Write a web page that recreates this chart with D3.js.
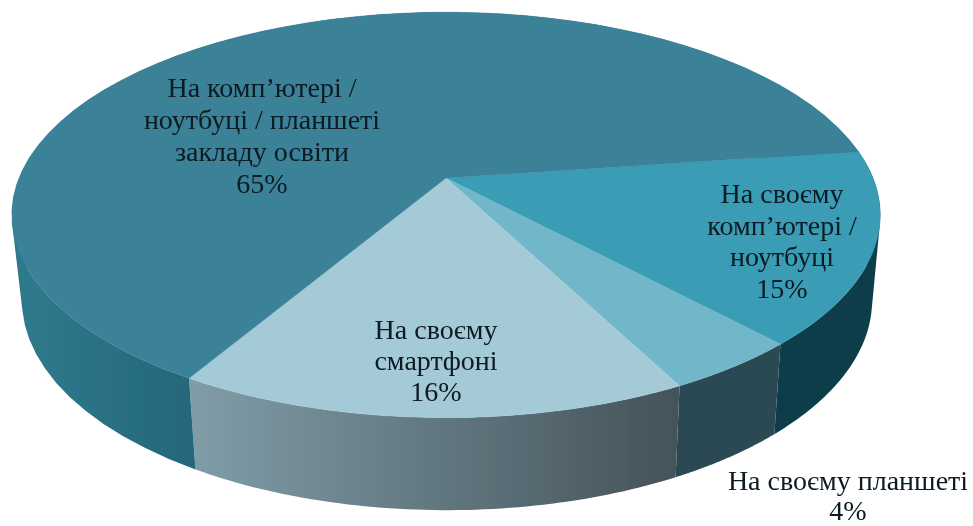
<!DOCTYPE html>
<html><head><meta charset="utf-8">
<script src="https://cdn.jsdelivr.net/npm/d3@7"></script>
<style>html,body{margin:0;padding:0;background:#fff}svg{display:block}
text{font-family:"Liberation Serif",serif;font-size:28px;fill:#0c1a20;text-anchor:middle}</style>
</head><body><svg id="c" width="973" height="526"></svg>
<script>
const categories=["На своєму комп’ютері / ноутбуці","На своєму планшеті","На своєму смартфоні","На комп’ютері / ноутбуці / планшеті закладу освіти"];
const values=[15.4,4.3,16.1,64.5];
const labelLines=[["На своєму","комп’ютері /","ноутбуці","15%"],["На своєму планшеті","4%"],["На своєму","смартфоні","16%"],["На комп’ютері /","ноутбуці / планшеті","закладу освіти","65%"]];
const topColors=["#3a9cb5","#72b6ca","#a5cad7","#3a8299"];
const wallStops=[["#123f4d","#0f3c49"],["#2c4a55","#2c4853"],["#7f9ca7","#45535a"],["#2f7a8c","#24667a"]];
const wallSpans=[[672,880],[672,780],[195,675],[15,200]];
const labelAnchors=[[782,203],[848,490],[436,339],[262,97]];
const lineGaps=[31.7,30,31,32];

const k=0.182;
const topDisc={cx:446,cy:178,a:427,b:196};
const baseDisc={cx:447,cy:262,a:418,b:203};
const project=(d,t)=>{const x=Math.cos(t),y=Math.sin(t),w=1-k*y;return [d.cx+d.a*x/w,d.cy+d.b*y/w];};

const svg=d3.select("#c");
const defs=svg.append("defs");
defs.append("filter").attr("id","soft").attr("x","-5%").attr("y","-5%").attr("width","110%").attr("height","110%")
  .append("feGaussianBlur").attr("stdDeviation",0.6);
defs.append("filter").attr("id","soft2").append("feGaussianBlur").attr("stdDeviation",0.35);

const start=82*Math.PI/180;
const pie=d3.pie().sort(null).startAngle(start).endAngle(start+2*Math.PI)(values);
const STEPS=60;
const rim=(d,a0,a1)=>d3.range(0,STEPS+1).map(i=>project(d,a0+(a1-a0)*i/STEPS-Math.PI/2));
const line=d3.line();

wallStops.forEach((s,i)=>{
  const g=defs.append("linearGradient").attr("id","w"+i).attr("gradientUnits","userSpaceOnUse")
    .attr("x1",wallSpans[i][0]).attr("x2",wallSpans[i][1]).attr("y1",0).attr("y2",0);
  g.append("stop").attr("offset",0).attr("stop-color",s[0]);
  g.append("stop").attr("offset",1).attr("stop-color",s[1]);
});

const art=svg.append("g").attr("filter","url(#soft)");
// walls: swept quads merged into one path per slice, so the side silhouette runs straight and no seams show
const wallPath=d=>{
  const a=rim(topDisc,d.startAngle,d.endAngle),b=rim(baseDisc,d.startAngle,d.endAngle);
  return d3.range(STEPS).map(j=>{
    const q=[a[j],a[j+1],b[j+1],b[j]];
    if(d3.polygonArea(q)<0) q.reverse();
    return line(q)+"Z";
  }).join("");
};
art.selectAll("path.wall").data(pie).join("path").attr("class","wall")
  .attr("fill",(d,i)=>`url(#w${i})`).attr("d",wallPath);
// top faces
art.selectAll("path.top").data(pie).join("path").attr("class","top")
  .attr("fill",(d,i)=>topColors[i]).attr("stroke",(d,i)=>topColors[i]).attr("stroke-width",0.4)
  .attr("d",d=>line([[topDisc.cx,topDisc.cy]].concat(rim(topDisc,d.startAngle,d.endAngle)))+"Z");
// labels
const labels=svg.append("g").attr("filter","url(#soft2)");
labelLines.forEach((ls,i)=>{
  ls.forEach((t,j)=>labels.append("text").attr("x",labelAnchors[i][0]).attr("y",labelAnchors[i][1]+j*lineGaps[i]).text(t));
});
</script></body></html>
